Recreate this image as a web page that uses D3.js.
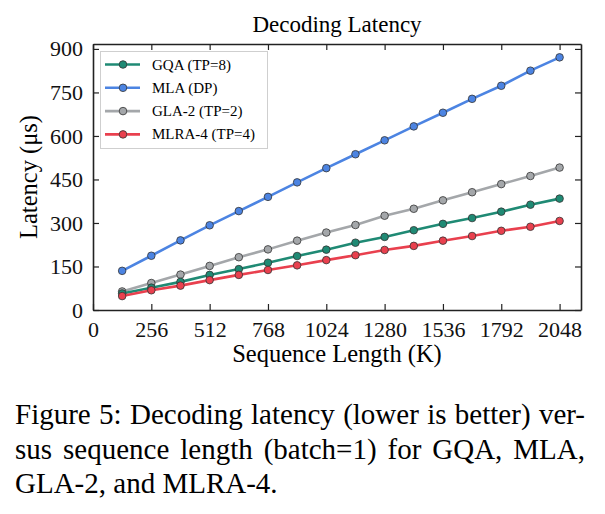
<!DOCTYPE html>
<html>
<head>
<meta charset="utf-8">
<script src="https://cdn.jsdelivr.net/npm/d3@7"></script>
<style>
  body { margin: 0; background: #fff; }
</style>
</head>
<body>
<script>
// sequence lengths (K)
var seqLens = [128, 256, 384, 512, 640, 768, 896, 1024, 1152, 1280, 1408, 1536, 1664, 1792, 1920, 2048];

var gqa  = [57, 77, 97, 121, 141, 163, 186, 208, 232, 252, 275, 297, 317, 339, 363, 384];
var mla  = [135, 187, 240, 292, 341, 390, 440, 489, 537, 585, 633, 680, 728, 773, 825, 871];
var gla2 = [64, 93, 122, 152, 182, 209, 239, 267, 293, 325, 349, 378, 406, 434, 462, 491];
var mlra = [48, 68, 84, 103, 121, 138, 154, 172, 189, 207, 221, 239, 255, 273, 287, 307];

var seriesNames = ["GQA (TP=8)", "MLA (DP)", "GLA-2 (TP=2)", "MLRA-4 (TP=4)"];
var seriesColors = ["#1f8a74", "#4c84e2", "#a4a7aa", "#e9404e"];

var xTicks = [0, 256, 512, 768, 1024, 1280, 1536, 1792, 2048];
var yTicks = [0, 150, 300, 450, 600, 750, 900];

var captionLines = [
  "Figure 5: Decoding latency (lower is better) ver-",
  "sus sequence length (batch=1) for GQA, MLA,",
  "GLA-2, and MLRA-4."
];

var serif = '"Liberation Serif", "Times New Roman", Times, serif';
var width = 605, height = 514;
var margin = {left: 93, right: 24, top: 44, bottom: 204};

var svg = d3.select('body').append('svg')
    .attr('width', width).attr('height', height)
    .attr('font-family', serif);

var x = d3.scaleLinear().domain([0, 2142]).range([margin.left, width - margin.right]);
var y = d3.scaleLinear().domain([0, 917]).range([height - margin.bottom, margin.top]);

var allSeries = [gqa, mla, gla2, mlra];

// axes: ticks inward on all four sides
function styleAxis(g) {
  g.attr('font-family', serif).attr('font-size', 22);
  g.select('.domain').attr('stroke', '#222').attr('stroke-width', 1.6);
  g.selectAll('.tick line').attr('stroke', '#222').attr('stroke-width', 1.2);
  g.selectAll('.tick text').attr('fill', '#111');
}

var bottomAx = svg.append('g')
    .attr('transform', 'translate(0,' + y(0) + ')')
    .call(d3.axisBottom(x).tickValues(xTicks).tickFormat(d3.format('d'))
      .tickSizeInner(-6).tickSizeOuter(0).tickPadding(11));
styleAxis(bottomAx);

var topAx = svg.append('g')
    .attr('transform', 'translate(0,' + margin.top + ')')
    .call(d3.axisTop(x).tickValues(xTicks).tickSizeInner(-6).tickSizeOuter(0).tickFormat(''));
styleAxis(topAx);

var leftAx = svg.append('g')
    .attr('transform', 'translate(' + margin.left + ',0)')
    .call(d3.axisLeft(y).tickValues(yTicks).tickFormat(d3.format('d'))
      .tickSizeInner(-6).tickSizeOuter(0).tickPadding(10));
styleAxis(leftAx);

var rightAx = svg.append('g')
    .attr('transform', 'translate(' + (width - margin.right) + ',0)')
    .call(d3.axisRight(y).tickValues(yTicks).tickSizeInner(-6).tickSizeOuter(0).tickFormat(''));
styleAxis(rightAx);

// lines + markers
var line = d3.line()
    .x(function(d, i) { return x(seqLens[i]); })
    .y(function(d) { return y(d); });

var drawOrder = [1, 2, 0, 3];
drawOrder.forEach(function(k) {
  svg.append('path')
      .datum(allSeries[k])
      .attr('fill', 'none')
      .attr('stroke', seriesColors[k])
      .attr('stroke-width', 2.6)
      .attr('d', line);
  svg.append('g').selectAll('circle')
      .data(allSeries[k])
      .enter().append('circle')
      .attr('cx', function(d, i) { return x(seqLens[i]); })
      .attr('cy', function(d) { return y(d); })
      .attr('r', 3.8)
      .attr('fill', seriesColors[k])
      .attr('stroke', '#333')
      .attr('stroke-width', 0.8);
});

// title and axis labels
var cx = (x.range()[0] + x.range()[1]) / 2;
svg.append('text')
    .attr('x', cx).attr('y', 32)
    .attr('text-anchor', 'middle').attr('font-size', 23)
    .text('Decoding Latency');

svg.append('text')
    .attr('x', cx).attr('y', 362)
    .attr('text-anchor', 'middle').attr('font-size', 24.5)
    .text('Sequence Length (K)');

svg.append('text')
    .attr('transform', 'translate(37,' + ((y.range()[0] + y.range()[1]) / 2) + ') rotate(-90)')
    .attr('text-anchor', 'middle').attr('font-size', 24.5)
    .text('Latency (μs)');

// legend
var legend = svg.append('g');
legend.append('rect')
    .attr('x', 100.5).attr('y', 51.5).attr('width', 167).attr('height', 97)
    .attr('fill', '#fff').attr('stroke', '#cfcfcf').attr('stroke-width', 1);

seriesNames.forEach(function(name, k) {
  var ly = 64.5 + k * 23.3;
  legend.append('line')
      .attr('x1', 105).attr('x2', 140).attr('y1', ly).attr('y2', ly)
      .attr('stroke', seriesColors[k]).attr('stroke-width', 2.6);
  legend.append('circle')
      .attr('cx', 123).attr('cy', ly).attr('r', 3.8)
      .attr('fill', seriesColors[k]).attr('stroke', '#333').attr('stroke-width', 0.8);
  legend.append('text')
      .attr('x', 152).attr('y', ly + 5)
      .attr('font-size', 15)
      .text(name);
});

// caption, first two lines justified to the column width
var captionWidth = 570;
svg.append('g').selectAll('text')
    .data(captionLines)
    .enter().append('text')
    .attr('x', 15)
    .attr('y', function(d, i) { return 424 + i * 34.7; })
    .attr('font-size', 29)
    .text(function(d) { return d; })
    .each(function(d, i) {
      if (i == captionLines.length - 1) return;
      var w = this.getComputedTextLength();
      var spaces = d.split(' ').length - 1;
      d3.select(this).attr('word-spacing', (captionWidth - w) / spaces);
    });
</script>
</body>
</html>
